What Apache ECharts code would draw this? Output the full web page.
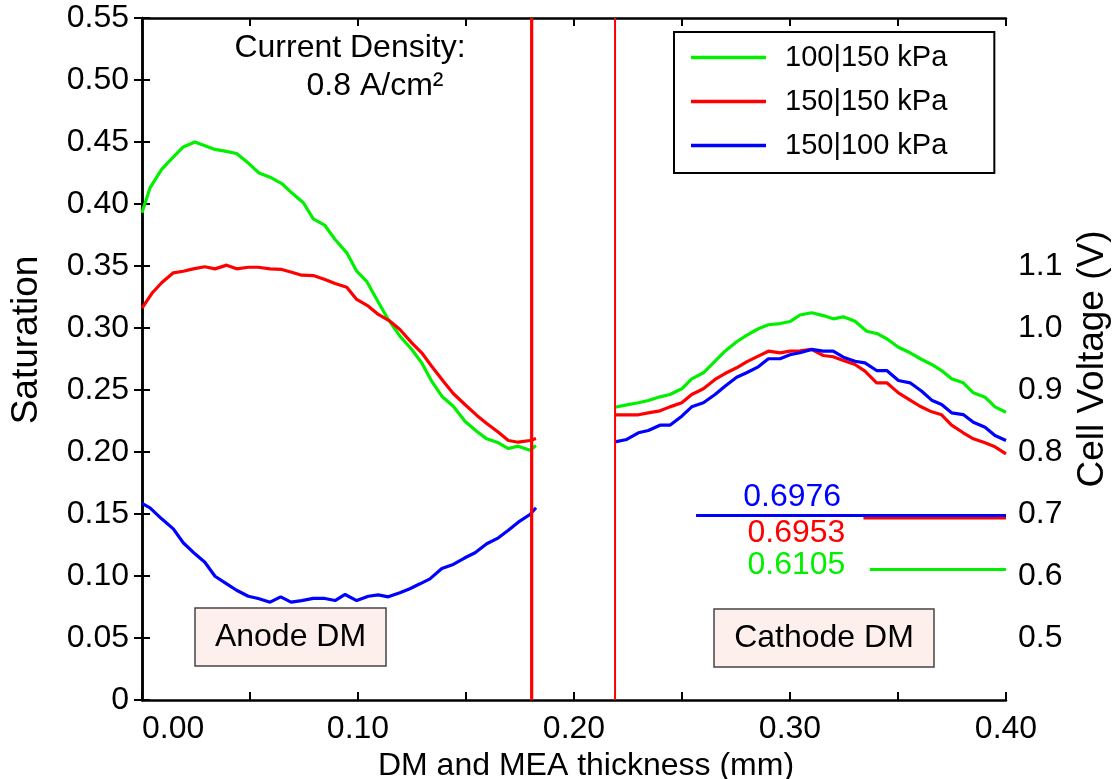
<!DOCTYPE html>
<html>
<head>
<meta charset="utf-8">
<script src="https://cdn.jsdelivr.net/npm/echarts@6/dist/echarts.min.js"></script>
<style>
  html, body { margin: 0; padding: 0; background: #fff; }
  #chart { width: 1114px; height: 779px; }
</style>
</head>
<body>
<div id="chart"></div>
<script>
// series names (legend order)
var seriesNames = ['100|150 kPa', '150|150 kPa', '150|100 kPa'];
var seriesColors = ['#00f000', '#ff0000', '#0000ff'];

// anode DM saturation, [thickness mm, saturation]
var anodeGreen = [[0,0.393],[0.0037,0.413],[0.0091,0.428],[0.014,0.437],[0.0191,0.446],[0.0245,0.450],[0.0338,0.444],[0.0384,0.4426],[0.0438,0.4407],[0.0492,0.433],[0.0542,0.425],[0.0593,0.4216],[0.0647,0.4165],[0.0693,0.409],[0.0747,0.401],[0.0793,0.388],[0.0847,0.3827],[0.0894,0.3714],[0.0948,0.3606],[0.0994,0.3458],[0.104,0.3377],[0.1087,0.323],[0.114,0.3069],[0.1194,0.2934],[0.1249,0.2827],[0.1295,0.2719],[0.1341,0.2571],[0.1388,0.245],[0.1441,0.2369],[0.1495,0.2248],[0.1549,0.2168],[0.1596,0.2106],[0.165,0.2074],[0.1696,0.2028],[0.1742,0.2047],[0.1796,0.2015],[0.1824,0.2052]];
var anodeRed = [[0,0.316],[0.0046,0.328],[0.0091,0.3365],[0.0145,0.3445],[0.0191,0.3458],[0.0237,0.3477],[0.0291,0.3494],[0.0338,0.3477],[0.0392,0.3507],[0.0438,0.3477],[0.0492,0.349],[0.0538,0.349],[0.0593,0.3477],[0.0647,0.3472],[0.0693,0.345],[0.0739,0.3426],[0.0793,0.3423],[0.0847,0.3391],[0.0894,0.3359],[0.0948,0.3329],[0.0994,0.323],[0.1048,0.3176],[0.1094,0.3109],[0.1148,0.3055],[0.1194,0.2988],[0.1249,0.288],[0.1295,0.28],[0.1341,0.2692],[0.1395,0.2571],[0.1441,0.2472],[0.1495,0.2383],[0.1549,0.2297],[0.1596,0.223],[0.165,0.216],[0.1696,0.2093],[0.1742,0.2079],[0.1796,0.2093],[0.1824,0.2109]];
var anodeBlue = [[0,0.1585],[0.0037,0.155],[0.0091,0.1461],[0.0145,0.138],[0.0191,0.1268],[0.0245,0.1179],[0.0291,0.1111],[0.0338,0.0998],[0.0392,0.0937],[0.0438,0.0885],[0.0492,0.0837],[0.0538,0.0819],[0.0593,0.0789],[0.0642,0.0832],[0.069,0.0789],[0.0739,0.0802],[0.0793,0.0819],[0.0847,0.0819],[0.0894,0.0802],[0.094,0.0851],[0.0994,0.0802],[0.1048,0.0837],[0.1094,0.0848],[0.114,0.0832],[0.1194,0.0865],[0.124,0.0897],[0.1287,0.0937],[0.1333,0.0977],[0.1388,0.106],[0.1441,0.1093],[0.1495,0.1147],[0.1542,0.1187],[0.1596,0.126],[0.165,0.1308],[0.1696,0.1369],[0.1742,0.1434],[0.1796,0.1496],[0.1824,0.155]];

// cathode DM saturation
var cathodeGreen = [[0.219,0.2361],[0.2244,0.238],[0.2298,0.2397],[0.2344,0.2415],[0.2398,0.2445],[0.2444,0.2464],[0.2499,0.251],[0.2545,0.259],[0.2599,0.2639],[0.2653,0.2732],[0.2699,0.2813],[0.2753,0.2889],[0.2799,0.294],[0.2853,0.2994],[0.29,0.3026],[0.2954,0.3036],[0.3,0.3052],[0.3046,0.3105],[0.31,0.3123],[0.3154,0.31],[0.32,0.3074],[0.3247,0.309],[0.3301,0.3055],[0.3355,0.2974],[0.3401,0.2956],[0.3448,0.2913],[0.3502,0.2845],[0.3556,0.28],[0.361,0.2746],[0.3656,0.2706],[0.3702,0.2657],[0.3748,0.259],[0.3802,0.2558],[0.3849,0.2477],[0.3903,0.2442],[0.3949,0.2364],[0.4,0.2321]];
var cathodeRed = [[0.219,0.23],[0.2244,0.23],[0.2298,0.23],[0.2344,0.2316],[0.2398,0.2332],[0.2444,0.2364],[0.2499,0.2397],[0.2545,0.2464],[0.2599,0.251],[0.2653,0.2585],[0.2699,0.2633],[0.2753,0.2679],[0.2799,0.2727],[0.2853,0.2773],[0.29,0.2813],[0.2954,0.28],[0.3,0.2813],[0.3046,0.2816],[0.31,0.2827],[0.3154,0.2778],[0.32,0.2768],[0.3247,0.2738],[0.3301,0.2706],[0.3347,0.2652],[0.3401,0.2558],[0.3448,0.2558],[0.3502,0.2477],[0.3556,0.2418],[0.3602,0.2369],[0.3656,0.2324],[0.3702,0.23],[0.3748,0.2216],[0.3802,0.2155],[0.3849,0.2106],[0.3903,0.2074],[0.3949,0.2042],[0.4,0.1985]];
var cathodeBlue = [[0.219,0.2082],[0.2244,0.2101],[0.2298,0.2155],[0.2344,0.2173],[0.2398,0.2216],[0.2444,0.2216],[0.2499,0.2289],[0.2545,0.2364],[0.2599,0.2397],[0.2653,0.2464],[0.2699,0.2531],[0.2753,0.2603],[0.2799,0.2639],[0.2853,0.2687],[0.29,0.2752],[0.2954,0.2752],[0.3,0.2784],[0.3046,0.28],[0.31,0.2827],[0.3154,0.2813],[0.32,0.2813],[0.3247,0.2765],[0.3301,0.2732],[0.3347,0.2719],[0.3401,0.2657],[0.3448,0.2657],[0.3502,0.2577],[0.3556,0.2558],[0.361,0.249],[0.3656,0.2418],[0.3702,0.2383],[0.3748,0.2316],[0.3802,0.2302],[0.3849,0.224],[0.3903,0.22],[0.3949,0.2133],[0.4,0.2093]];

// cell voltages (right axis) and where each marker line starts
var cellVoltage = [0.6105, 0.6953, 0.6976];
var voltageLineStart = [0.337, 0.334, 0.2565];

// MEA boundaries (mm)
var meaBounds = [0.1804, 0.219];

var xTicks = [0, 0.40, 0.05];        // min, max, step
var satTicks = [0, 0.55, 0.05];
var voltTicks = [0.4, 1.5, 0.1];
var voltLabelled = [0.5, 1.1];

var FONT = '"Liberation Sans", Arial, sans-serif';

var chart = echarts.init(document.getElementById('chart'), null, { renderer: 'canvas' });

var anode = [anodeGreen, anodeRed, anodeBlue];
var cathode = [cathodeGreen, cathodeRed, cathodeBlue];

var series = [];
seriesNames.forEach(function (name, i) {
  series.push({
    name: name,
    type: 'line',
    data: anode[i].concat([[0.2, '-']], cathode[i]),
    symbol: 'none',
    connectNulls: false,
    color: seriesColors[i],
    lineStyle: { width: 3.2, color: seriesColors[i] },
    z: 3
  });
});

// membrane boundary lines
meaBounds.forEach(function (x, i) {
  series.push({
    type: 'line',
    data: [[x, satTicks[0]], [x, satTicks[1]]],
    symbol: 'none',
    silent: true,
    lineStyle: { width: i === 0 ? 3.2 : 2, color: '#ff0000' },
    z: 4
  });
});

// cell voltage marker lines + labels
var labelOffsets = [[0, -4], [0, 16], [0, -18]];
var labelX = [0.303, 0.303, 0.301];
cellVoltage.forEach(function (v, i) {
  series.push({
    type: 'line',
    yAxisIndex: 1,
    data: [[voltageLineStart[i], v], [xTicks[1], v]],
    symbol: 'none',
    silent: true,
    lineStyle: { width: i === 1 ? 5 : 3.2, color: seriesColors[i] },
    z: 3
  });
  series.push({
    type: 'scatter',
    yAxisIndex: 1,
    data: [[labelX[i], v]],
    symbolSize: 0,
    silent: true,
    itemStyle: { opacity: 1 },
    label: {
      show: true,
      position: 'inside',
      offset: labelOffsets[i],
      formatter: String(v.toFixed(4)),
      color: seriesColors[i],
      opacity: 1,
      textBorderWidth: 0,
      fontSize: 32,
      fontFamily: FONT
    }
  });
});

var axisLine = { show: true, lineStyle: { color: '#000', width: 2.5 } };
var axisTick = { show: true, inside: true, length: 8, lineStyle: { color: '#000', width: 2 } };

var option = {
  animation: false,
  backgroundColor: '#fff',
  textStyle: { fontFamily: FONT },
  grid: { left: 142, right: 108, top: 18, bottom: 79, containLabel: false, outerBoundsMode: 'none' },
  legend: {
    data: seriesNames,
    orient: 'vertical',
    left: 674,
    top: 32,
    icon: 'rect',
    itemWidth: 75,
    itemHeight: 3.5,
    itemGap: 15,
    padding: [11, 47, 13, 17],
    backgroundColor: '#fff',
    borderColor: '#000',
    borderWidth: 2,
    borderRadius: 0,
    textStyle: { fontSize: 29, lineHeight: 26, color: '#000', fontFamily: FONT, padding: [0, 0, 0, 14] }
  },
  xAxis: [{
    type: 'value',
    min: xTicks[0], max: xTicks[1], interval: xTicks[2],
    name: 'DM and MEA thickness (mm)',
    nameLocation: 'middle',
    nameGap: 48,
    nameTextStyle: { fontSize: 32, color: '#000', fontFamily: FONT, padding: [0, 0, 0, 24] },
    axisLine: axisLine,
    axisTick: axisTick,
    splitLine: { show: false },
    axisLabel: {
      margin: 13,
      fontSize: 32,
      color: '#000',
      fontFamily: FONT,
      alignMinLabel: 'left',
      formatter: function (v) {
        var k = Math.round(v * 100);
        return k % 10 === 0 ? (k / 100).toFixed(2) : '';
      }
    }
  }, {
    type: 'value',
    position: 'top',
    min: xTicks[0], max: xTicks[1], interval: xTicks[2],
    axisLine: axisLine,
    axisTick: axisTick,
    axisLabel: { show: false },
    splitLine: { show: false }
  }],
  yAxis: [{
    type: 'value',
    min: satTicks[0], max: satTicks[1], interval: satTicks[2],
    name: 'Saturation',
    nameLocation: 'middle',
    nameGap: 97,
    nameTextStyle: { fontSize: 37, color: '#000', fontFamily: FONT, padding: [0, 0, 0, 38] },
    axisLine: axisLine,
    axisTick: axisTick,
    splitLine: { show: false },
    axisLabel: {
      margin: 13,
      fontSize: 32,
      color: '#000',
      fontFamily: FONT,
      formatter: function (v) { return v === 0 ? '0' : v.toFixed(2); }
    }
  }, {
    type: 'value',
    position: 'right',
    min: voltTicks[0], max: voltTicks[1], interval: voltTicks[2],
    name: 'Cell Voltage (V)',
    nameLocation: 'middle',
    nameGap: 68,
    nameTextStyle: { fontSize: 37, color: '#000', fontFamily: FONT },
    axisLine: axisLine,
    axisTick: axisTick,
    splitLine: { show: false },
    axisLabel: {
      margin: 12,
      fontSize: 32,
      color: '#000',
      fontFamily: FONT,
      formatter: function (v) {
        var r = Math.round(v * 10) / 10;
        return (r >= voltLabelled[0] && r <= voltLabelled[1]) ? r.toFixed(1) : '';
      }
    }
  }],
  graphic: [
    { type: 'text', x: 350, y: 48, z: 10,
      style: { text: 'Current Density:', fontSize: 32, fontFamily: FONT, fill: '#000', align: 'center', verticalAlign: 'middle' } },
    { type: 'text', x: 375, y: 86, z: 10,
      style: { text: '0.8 A/cm²', fontSize: 32, fontFamily: FONT, fill: '#000', align: 'center', verticalAlign: 'middle' } },
    { type: 'rect', z: 10, shape: { x: 195, y: 608, width: 191, height: 58 },
      style: { fill: '#fdf0ec', stroke: '#444', lineWidth: 1.5 } },
    { type: 'text', x: 290.5, y: 637, z: 11,
      style: { text: 'Anode DM', fontSize: 32, fontFamily: FONT, fill: '#000', align: 'center', verticalAlign: 'middle' } },
    { type: 'rect', z: 10, shape: { x: 714, y: 609, width: 220, height: 58 },
      style: { fill: '#fdf0ec', stroke: '#444', lineWidth: 1.5 } },
    { type: 'text', x: 824, y: 638, z: 11,
      style: { text: 'Cathode DM', fontSize: 32, fontFamily: FONT, fill: '#000', align: 'center', verticalAlign: 'middle' } }
  ],
  series: series
};

chart.setOption(option);
</script>
</body>
</html>
